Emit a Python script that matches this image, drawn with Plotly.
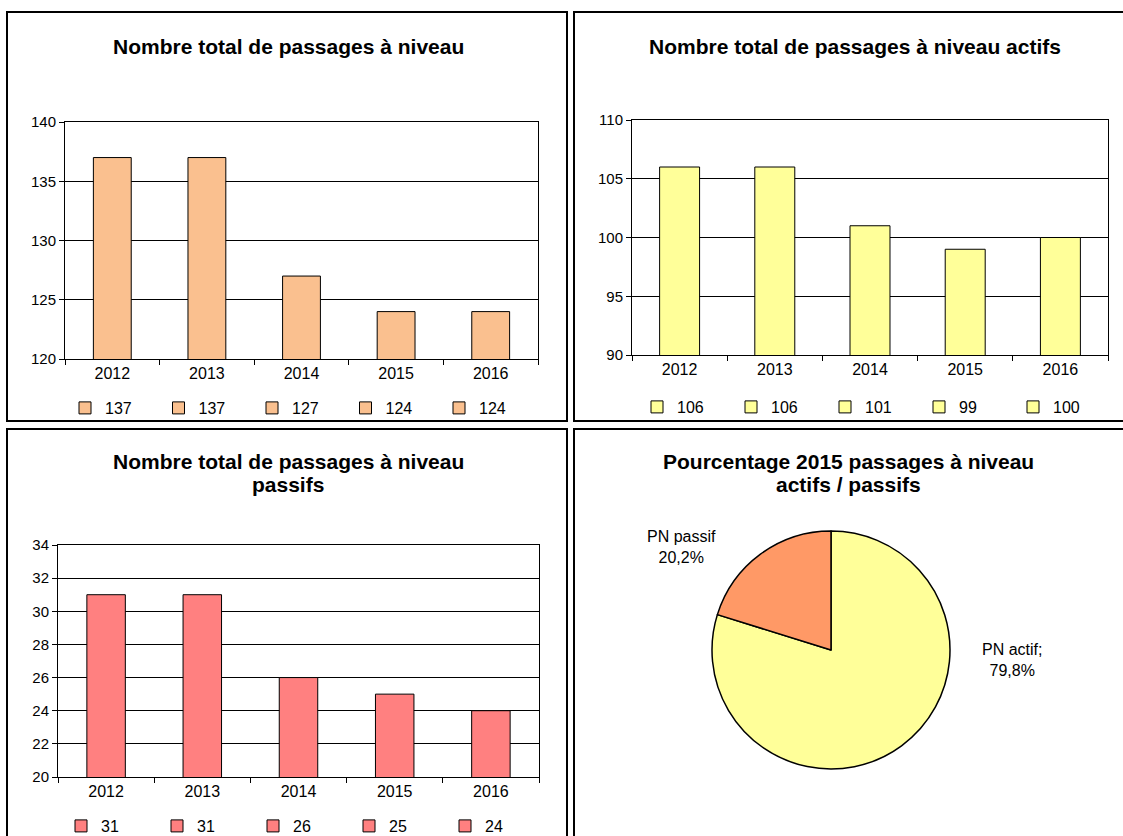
import plotly.graph_objects as go

# ---- data ----
years = ["2012", "2013", "2014", "2015", "2016"]
total_pn = [137, 137, 127, 124, 124]
actifs_pn = [106, 106, 101, 99, 100]
passifs_pn = [31, 31, 26, 25, 24]
pie_labels = ["PN actif", "PN passif"]
pie_shares = [79.8, 20.2]
pie_label_suffix = [";", ""]

W, H = 1123, 836
FONT = "Liberation Sans, Arial, sans-serif"


def px_x(x):
    return x / W


def px_y(y):
    return 1 - y / H


fig = go.Figure()

charts = [
    dict(vals=total_pn, color="rgb(250,192,143)", ax="", legend="legend",
         xdom=(65, 538), ydom=(122, 359), yr=(120, 140), dt=5, width=0.4, ew=48.5),
    dict(vals=actifs_pn, color="rgb(255,255,153)", ax="2", legend="legend2",
         xdom=(632, 1108), ydom=(120, 355), yr=(90, 110), dt=5, width=0.42, ew=49),
    dict(vals=passifs_pn, color="rgb(255,128,128)", ax="3", legend="legend3",
         xdom=(58, 539), ydom=(545, 777), yr=(20, 34), dt=2, width=0.4, ew=51),
]

for c in charts:
    for yr, v in zip(years, c["vals"]):
        fig.add_trace(go.Bar(
            x=[yr], y=[v], name=str(v), width=c["width"],
            marker=dict(color=c["color"], line=dict(color="black", width=1)),
            xaxis="x" + c["ax"], yaxis="y" + c["ax"], legend=c["legend"],
        ))
    xa = dict(domain=[px_x(c["xdom"][0]), px_x(c["xdom"][1])],
              anchor="y" + c["ax"], type="category",
              showline=True, linecolor="black", linewidth=1, mirror=True,
              ticks="outside", ticklen=5, tickcolor="black", tickson="boundaries",
              showgrid=False, tickfont=dict(family=FONT, size=16, color="black"))
    ya = dict(domain=[px_y(c["ydom"][1]), px_y(c["ydom"][0])],
              anchor="x" + c["ax"], range=list(c["yr"]), dtick=c["dt"],
              showline=True, linecolor="black", linewidth=1, mirror=True,
              ticks="outside", ticklen=5, tickcolor="black",
              showgrid=True, gridcolor="black", gridwidth=1, zeroline=False,
              tickfont=dict(family=FONT, size=15, color="black"))
    fig.update_layout(**{"xaxis" + c["ax"]: xa, "yaxis" + c["ax"]: ya})
    fig.update_layout(**{c["legend"]: dict(
        orientation="h", xanchor="left", yanchor="middle",
        font=dict(family=FONT, size=16, color="black"),
        entrywidth=c["ew"], entrywidthmode="pixels", bgcolor="rgba(0,0,0,0)",
        itemclick=False, tracegroupgap=0)})

# pie: share of active / passive level crossings
cx, cy, r = 831, 650, 119
fig.add_trace(go.Pie(
    labels=pie_labels, values=pie_shares, sort=False,
    direction="clockwise", rotation=0, textinfo="none",
    marker=dict(colors=["rgb(255,255,153)", "rgb(255,153,102)"],
                line=dict(color="black", width=1.5)),
    domain=dict(x=[px_x(cx - r), px_x(cx + r)], y=[px_y(cy + r), px_y(cy - r)]),
    showlegend=False,
))

label_pos = [(1012, 660), (681, 547)]
annotations = []
for lab, share, suf, (lx, ly) in zip(pie_labels, pie_shares, pie_label_suffix, label_pos):
    annotations.append(dict(
        x=px_x(lx), y=px_y(ly), xref="paper", yref="paper", showarrow=False,
        xanchor="center", yanchor="middle",
        text=f"{lab}{suf}<br>{share:.1f}%".replace(".", ","),
        font=dict(family=FONT, size=16, color="black"), align="center",
    ))

# chart titles, one annotation per line
title_lines = [
    ("Nombre total de passages à niveau", 288, 46),
    ("Nombre total de passages à niveau actifs", 855, 46),
    ("Nombre total de passages à niveau", 288, 461),
    ("passifs", 288, 485),
    ("Pourcentage 2015 passages à niveau", 848, 461),
    ("actifs / passifs", 848, 485),
]
for t, tx, ty in title_lines:
    annotations.append(dict(
        x=px_x(tx), y=px_y(ty), xref="paper", yref="paper", showarrow=False,
        xanchor="center", yanchor="middle",
        text=f"<b>{t}</b>", font=dict(family=FONT, size=21, color="black"),
    ))

# panel frames
frames = [(7, 12, 567, 421), (574, 12, 1126, 421), (7, 429, 567, 840), (574, 429, 1126, 840)]
shapes = [dict(type="rect", xref="paper", yref="paper",
               x0=px_x(a), x1=px_x(b), y0=px_y(d), y1=px_y(c_),
               line=dict(color="black", width=2))
          for a, c_, b, d in frames]

fig.update_layout(
    width=W, height=H, margin=dict(l=0, r=0, t=0, b=0, autoexpand=False),
    paper_bgcolor="white", plot_bgcolor="white",
    barmode="overlay", showlegend=True,
    annotations=annotations, shapes=shapes,
)
fig.update_layout(
    legend=dict(x=px_x(65), y=px_y(408)),
    legend2=dict(x=px_x(637), y=px_y(407)),
    legend3=dict(x=px_x(61), y=px_y(826)),
)

fig.write_html("out.html")
